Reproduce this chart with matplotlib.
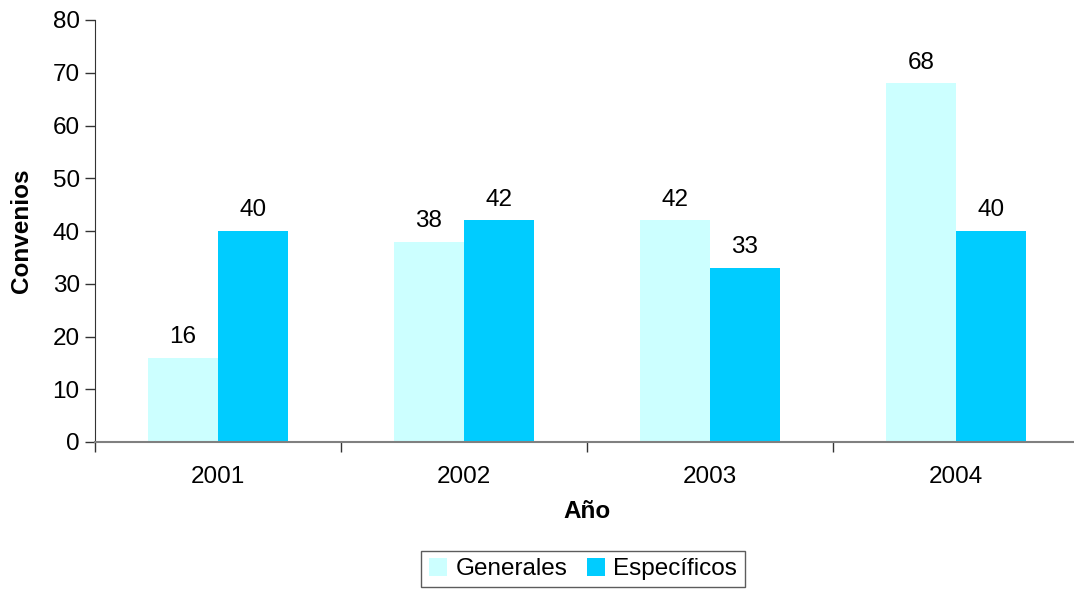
import matplotlib
matplotlib.use("Agg")
import matplotlib.pyplot as plt
import numpy as np

years = ["2001", "2002", "2003", "2004"]
generales = [16, 38, 42, 68]
especificos = [40, 42, 33, 40]
series_names = ["Generales", "Específicos"]
colors = ["#CCFFFF", "#00CCFF"]

plt.rcParams['font.family'] = ['Liberation Sans', 'DejaVu Sans']

W, H = 1074, 589
FS = 17.5
fig = plt.figure(figsize=(W/100, H/100), dpi=100)
left, right, top, bottom = 95, 1079, 20, 442
ax = fig.add_axes([left/W, 1 - bottom/H, (right-left)/W, (bottom-top)/H])

x = np.arange(len(years))
bw = 0.285
b1 = ax.bar(x - bw/2, generales, bw, color=colors[0], label=series_names[0])
b2 = ax.bar(x + bw/2, especificos, bw, color=colors[1], label=series_names[1])

for bars, vals in ((b1, generales), (b2, especificos)):
    for r, v in zip(bars, vals):
        ax.annotate(str(v), (r.get_x() + r.get_width()/2, v), xytext=(0, 7),
                    textcoords="offset points", ha="center", va="bottom", fontsize=FS)

ax.set_xlim(-0.5, len(years) - 0.5)
ax.set_ylim(0, 80)
ax.set_yticks(range(0, 81, 10))
ax.set_xticks(x)
ax.set_xticklabels(years)
ax.set_xticks(np.arange(-0.5, len(years), 1), minor=True)
ax.tick_params(axis='x', which='major', length=0, pad=17, labelsize=FS)
ax.tick_params(axis='x', which='minor', length=7, width=1, color='#333333')
ax.tick_params(axis='y', length=7, width=1, color='#333333', labelsize=FS, pad=4)

for s in ("top", "right"):
    ax.spines[s].set_visible(False)
ax.spines['left'].set_color('#333333')
ax.spines['bottom'].set_color('#808080')
ax.spines['bottom'].set_linewidth(1.5)

ax.set_ylabel("Convenios", fontsize=FS, fontweight='bold', labelpad=14)
ax.set_xlabel("Año", fontsize=FS, fontweight='bold', labelpad=9)

leg = fig.legend(handles=[b1, b2], labels=series_names, loc='center',
                 bbox_to_anchor=(583/W, 1 - 569/H), ncol=2, frameon=True,
                 fancybox=False, edgecolor='#333333', fontsize=FS,
                 handlelength=0.75, handleheight=0.75, handletextpad=0.35,
                 columnspacing=0.8, borderpad=0.3)
leg.get_frame().set_linewidth(1)

fig.savefig("out.png", dpi=100)
